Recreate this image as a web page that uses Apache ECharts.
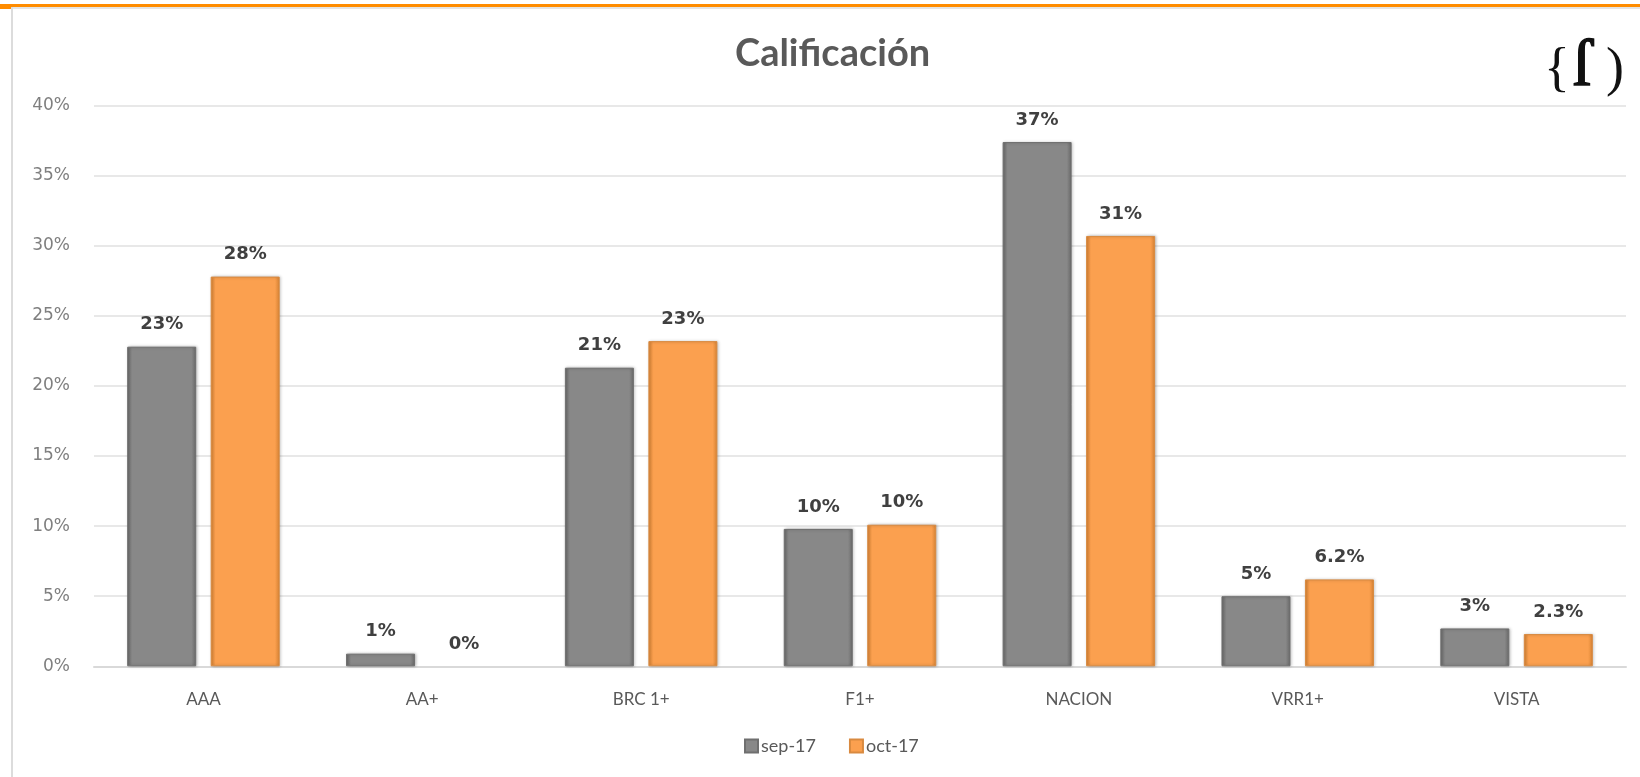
<!DOCTYPE html>
<html>
<head>
<meta charset="utf-8">
<title>Calificación</title>
<script src="https://cdn.jsdelivr.net/npm/echarts@6/dist/echarts.min.js"></script>
<style>
  html, body { margin: 0; padding: 0; background: #ffffff; }
  #chart { width: 1640px; height: 777px; }
</style>
</head>
<body>
<div id="chart"></div>
<script>
// Rating categories and the share (in %) held in each one
const categories = ['AAA', 'AA+', 'BRC 1+', 'F1+', 'NACION', 'VRR1+', 'VISTA'];
const sep17 = [22.8, 0.9, 21.3, 9.8, 37.4, 5.0, 2.7];
const oct17 = [27.8, 0.0, 23.2, 10.1, 30.7, 6.2, 2.3];
// decimals shown in each point's label
const sepDecimals = [0, 0, 0, 0, 0, 0, 0];
const octDecimals = [0, 0, 0, 0, 0, 1, 1];
const seriesNames = ['sep-17', 'oct-17'];
const yTicks = { min: 0, max: 40, interval: 5 };

const chart = echarts.init(document.getElementById('chart'), null, { renderer: 'canvas' });

function barFill(edge, mid) {
  return new echarts.graphic.LinearGradient(0, 0, 1, 0, [
    { offset: 0, color: edge },
    { offset: 0.07, color: mid },
    { offset: 0.93, color: mid },
    { offset: 1, color: edge }
  ]);
}

function labelFor(decimals) {
  return function (p) {
    return p.value.toFixed(decimals[p.dataIndex]) + '%';
  };
}

// an empty bar keeps its label but draws no outline or shadow
function toItems(values) {
  return values.map(function (v) {
    return v === 0
      ? { value: v, itemStyle: { color: 'rgba(0,0,0,0)', borderWidth: 0, shadowBlur: 0, shadowColor: 'rgba(0,0,0,0)' } }
      : v;
  });
}

const labelStyle = {
  show: true,
  position: 'top',
  distance: 13,
  fontFamily: 'DejaVu Sans',
  fontWeight: 'bold',
  fontSize: 18,
  color: '#404040'
};

chart.setOption({
  animation: false,
  backgroundColor: '#ffffff',
  title: {
    text: 'Calificación',
    left: 730,
    top: 30,
    textStyle: { fontFamily: 'Lato', fontWeight: 'bold', fontSize: 38, color: '#595959' }
  },
  legend: {
    data: seriesNames,
    left: 744,
    top: 737,
    padding: 0,
    icon: 'rect',
    itemWidth: 13,
    itemHeight: 13,
    itemGap: 33,
    textStyle: { fontFamily: 'Lato', fontSize: 18, color: '#595959', padding: [0, 0, 0, -2] }
  },
  grid: { left: 94, right: 14, top: 105.6, bottom: 110.7, containLabel: false },
  xAxis: {
    type: 'category',
    data: categories,
    axisTick: { show: false },
    axisLine: { lineStyle: { color: '#d9d9d9', width: 2 } },
    axisLabel: { margin: 25, fontFamily: 'Lato', fontSize: 17, color: '#595959' }
  },
  yAxis: {
    type: 'value',
    min: yTicks.min,
    max: yTicks.max,
    interval: yTicks.interval,
    axisLine: { show: false },
    axisTick: { show: false },
    splitLine: { lineStyle: { color: '#e0e0e0', width: 1.5 } },
    axisLabel: {
      margin: 24,
      fontFamily: 'DejaVu Sans',
      fontSize: 17,
      color: '#7f7f7f',
      formatter: '{value}%'
    }
  },
  series: [
    {
      name: seriesNames[0],
      type: 'bar',
      data: toItems(sep17),
      barWidth: 69,
      barGap: '21%',
      itemStyle: {
        color: barFill('#6a6a6a', '#888888'),
        borderColor: '#6f6f6f',
        borderWidth: 1,
        shadowColor: 'rgba(0,0,0,0.25)',
        shadowBlur: 3,
        shadowOffsetX: 1
      },
      label: Object.assign({ formatter: labelFor(sepDecimals) }, labelStyle)
    },
    {
      name: seriesNames[1],
      type: 'bar',
      data: toItems(oct17),
      barWidth: 69,
      barGap: '21%',
      itemStyle: {
        color: barFill('#d98434', '#fba04f'),
        borderColor: '#d98a40',
        borderWidth: 1,
        shadowColor: 'rgba(0,0,0,0.25)',
        shadowBlur: 3,
        shadowOffsetX: 1
      },
      label: Object.assign({ formatter: labelFor(octDecimals) }, labelStyle)
    }
  ],
  graphic: [
    // frame: orange rule across the top and a thin grey edge on the left
    { type: 'rect', shape: { x: 0, y: 4, width: 1640, height: 3 }, style: { fill: '#ff8c00' }, z: 10 },
    { type: 'rect', shape: { x: 0, y: 7, width: 12, height: 2 }, style: { fill: '#ff8c00' }, z: 10 },
    { type: 'rect', shape: { x: 12, y: 7, width: 1628, height: 2 }, style: { fill: '#e4e4e4' }, z: 10 },
    { type: 'rect', shape: { x: 11, y: 7, width: 2, height: 770 }, style: { fill: '#dcdcdc' }, z: 10 },
    // brand mark in the top-right corner
    {
      type: 'text', left: 1544, top: 44,
      style: { text: '{', font: '54px "Liberation Serif"', fill: '#111111' }, z: 10
    },
    {
      type: 'text', left: 1572, top: 34,
      style: { text: 'ſ', font: '66px "Liberation Serif"', fill: '#111111', stroke: '#111111', lineWidth: 1.6 }, z: 10
    },
    {
      type: 'text', left: 1606, top: 44,
      style: { text: ')', font: '54px "Liberation Serif"', fill: '#111111' }, z: 10
    }
  ]
});
</script>
</body>
</html>
